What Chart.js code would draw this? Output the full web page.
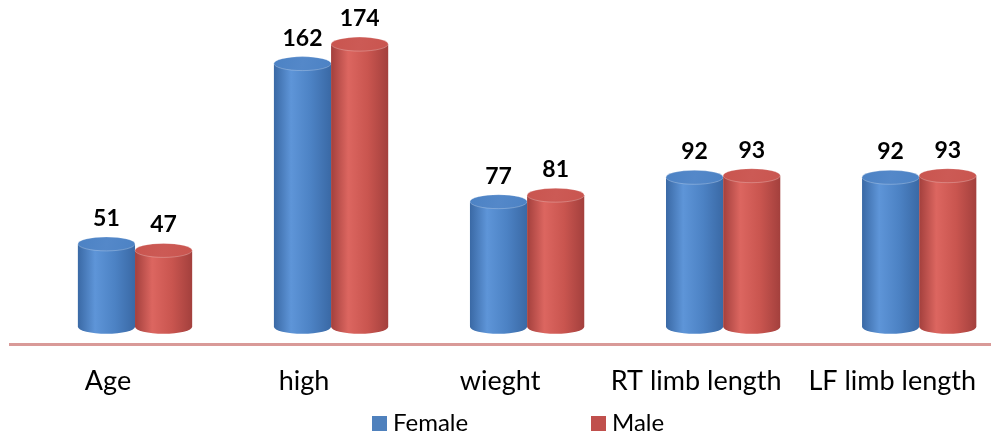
<!DOCTYPE html>
<html>
<head>
<meta charset="utf-8">
<script src="https://cdn.jsdelivr.net/npm/chart.js@4/dist/chart.umd.min.js"></script>
<style>
  html, body { margin: 0; padding: 0; background: #fff; }
  #wrap { width: 996px; height: 437px; position: relative; }
</style>
</head>
<body>
<div id="wrap"><canvas id="chart"></canvas></div>
<script>
// Body measurements by sex
const categories = ['Age', 'high', 'wieght', 'RT limb length', 'LF limb length'];
const femaleValues = [51, 162, 77, 92, 92];
const maleValues = [47, 174, 81, 93, 93];
const seriesNames = ['Female', 'Male'];

// Cylinder palettes
const palettes = [
  { edge: '#3a69a5', light: '#5e95d8', mid: '#4c82c4', top: '#5488c9', key: '#4f81bd' },
  { edge: '#a3403d', light: '#dc6660', mid: '#c9554f', top: '#cc5a55', key: '#c0504d' }
];

const DEPTH_X = 27;   // horizontal shift of the cylinders (3D perspective)
const RY = 7;         // vertical radius of the cylinder ends

const cylinderPlugin = {
  id: 'cylinders',
  afterDatasetsDraw(chart) {
    const ctx = chart.ctx;
    ctx.save();
    chart.data.datasets.forEach((ds, di) => {
      const meta = chart.getDatasetMeta(di);
      const pal = palettes[di];
      meta.data.forEach((bar, i) => {
        const { x, y, base, width } = bar.getProps(['x', 'y', 'base', 'width'], true);
        const cx = x + DEPTH_X;
        const rx = width / 2;
        const left = cx - rx, right = cx + rx;
        const g = ctx.createLinearGradient(left, 0, right, 0);
        g.addColorStop(0, pal.edge);
        g.addColorStop(0.3, pal.light);
        g.addColorStop(0.65, pal.mid);
        g.addColorStop(1, pal.edge);
        // body with rounded bottom
        ctx.beginPath();
        ctx.moveTo(left, y);
        ctx.lineTo(left, base);
        ctx.ellipse(cx, base, rx, RY, 0, Math.PI, 0, true);
        ctx.lineTo(right, y);
        ctx.closePath();
        ctx.fillStyle = g;
        ctx.fill();
        // top cap
        const tg = ctx.createLinearGradient(left, y - RY, right, y + RY);
        tg.addColorStop(0, pal.mid);
        tg.addColorStop(0.5, pal.top);
        tg.addColorStop(1, pal.mid);
        ctx.beginPath();
        ctx.ellipse(cx, y, rx, RY, 0, 0, Math.PI * 2);
        ctx.fillStyle = tg;
        ctx.fill();
        ctx.strokeStyle = 'rgba(255,255,255,0.25)';
        ctx.lineWidth = 1;
        ctx.stroke();
        // value label
        ctx.fillStyle = '#000';
        ctx.font = 'bold 23px Lato';
        ctx.textAlign = 'center';
        ctx.textBaseline = 'alphabetic';
        ctx.fillText(String(ds.data[i]), cx, y - 18);
      });
    });
    ctx.restore();
  },
  afterDraw(chart) {
    // legend row
    const ctx = chart.ctx;
    ctx.save();
    ctx.font = '24px Lato';
    ctx.textBaseline = 'middle';
    ctx.textAlign = 'left';
    const starts = [372, 591];
    seriesNames.forEach((name, i) => {
      ctx.fillStyle = palettes[i].key;
      ctx.fillRect(starts[i], 416, 15, 15);
      ctx.fillStyle = '#000';
      ctx.fillText(name, starts[i] + 21, 423);
    });
    ctx.restore();
  }
};

new Chart(document.getElementById('chart'), {
  type: 'bar',
  data: {
    labels: categories,
    datasets: [
      { label: seriesNames[0], data: femaleValues, backgroundColor: 'rgba(0,0,0,0)' },
      { label: seriesNames[1], data: maleValues, backgroundColor: 'rgba(0,0,0,0)' }
    ]
  },
  options: {
    responsive: true,
    maintainAspectRatio: false,
    devicePixelRatio: 1,
    animation: false,
    layout: { padding: { top: 10, left: 10, right: 0, bottom: 20 } },
    datasets: { bar: { categoryPercentage: 0.583, barPercentage: 1 } },
    plugins: { legend: { display: false }, tooltip: { enabled: false } },
    scales: {
      x: {
        grid: { display: false, drawTicks: false },
        border: { display: true, color: '#d99a98', width: 3 },
        ticks: { color: '#000', padding: 20, font: { family: 'Lato', size: 27 } }
      },
      y: {
        display: false,
        min: -11,
        max: 195
      }
    }
  },
  plugins: [cylinderPlugin]
});
</script>
</body>
</html>
